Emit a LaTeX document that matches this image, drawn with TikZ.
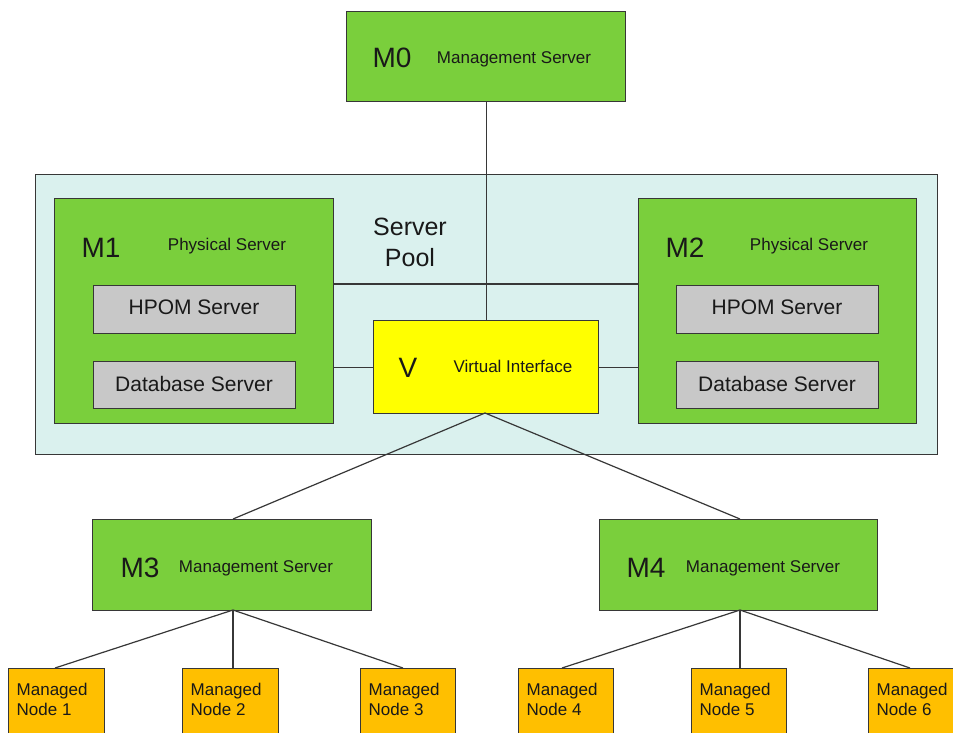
\documentclass[tikz,border=0pt]{standalone}
\usepackage{fontspec}
\setmainfont{Liberation Sans}
\definecolor{grn}{RGB}{122,207,60}
\definecolor{pool}{RGB}{218,241,238}
\definecolor{gry}{RGB}{200,200,200}
\definecolor{ylw}{RGB}{255,255,0}
\definecolor{orn}{RGB}{255,191,0}
\definecolor{edge}{RGB}{55,55,55}
\definecolor{txt}{RGB}{25,25,25}
\tikzset{
  box/.style={draw=edge, line width=1.2pt, inner sep=0pt},
  conn/.style={draw=edge, line width=1.2pt},
  big/.style={font=\fontsize{28}{30}\selectfont, text=txt, anchor=base, inner sep=0pt},
  small/.style={font=\fontsize{17}{20}\selectfont, text=txt, anchor=base, inner sep=0pt},
  mid/.style={font=\fontsize{21}{24}\selectfont, text=txt, anchor=base, inner sep=0pt},
  poolt/.style={font=\fontsize{25}{30}\selectfont, text=txt, anchor=base, inner sep=0pt},
  mn/.style={font=\fontsize{17}{20}\selectfont, text=txt, anchor=north west, inner sep=0pt, align=left},
}
\begin{document}
\begin{tikzpicture}[x=1pt,y=-1pt]
\clip (0,0) rectangle (953,732);
\fill[white] (0,0) rectangle (953,732);
% boxes
\node[box, fill=pool, minimum width=902pt, minimum height=280pt, anchor=north west] (pool) at (35,174) {};
\node[box, fill=grn, minimum width=279pt, minimum height=90pt, anchor=north west] (m0) at (346,11) {};
\node[box, fill=grn, minimum width=279pt, minimum height=225pt, anchor=north west] (m1) at (54,198) {};
\node[box, fill=grn, minimum width=278pt, minimum height=225pt, anchor=north west] (m2) at (638,198) {};
\node[box, fill=gry, minimum width=202pt, minimum height=48pt, anchor=north west] (h1) at (93,285) {};
\node[box, fill=gry, minimum width=202pt, minimum height=47pt, anchor=north west] (d1) at (93,361) {};
\node[box, fill=gry, minimum width=202pt, minimum height=48pt, anchor=north west] (h2) at (676,285) {};
\node[box, fill=gry, minimum width=202pt, minimum height=47pt, anchor=north west] (d2) at (676,361) {};
\node[box, fill=ylw, minimum width=225pt, minimum height=93pt, anchor=north west] (v) at (373,320) {};
\node[box, fill=grn, minimum width=279pt, minimum height=91pt, anchor=north west] (m3) at (92,519) {};
\node[box, fill=grn, minimum width=278pt, minimum height=91pt, anchor=north west] (m4) at (599,519) {};
\node[box, fill=orn, minimum width=96pt, minimum height=92pt, anchor=north west] (n1) at (8,668) {};
\node[box, fill=orn, minimum width=96pt, minimum height=92pt, anchor=north west] (n2) at (182,668) {};
\node[box, fill=orn, minimum width=95pt, minimum height=92pt, anchor=north west] (n3) at (360,668) {};
\node[box, fill=orn, minimum width=95pt, minimum height=92pt, anchor=north west] (n4) at (518,668) {};
\node[box, fill=orn, minimum width=95pt, minimum height=92pt, anchor=north west] (n5) at (691,668) {};
\node[box, fill=orn, minimum width=96pt, minimum height=92pt, anchor=north west] (n6) at (868,668) {};
% connectors
\draw[conn] (m0.south -| v.north) -- (v.north);
\draw[conn] (m1.east |- 0,284) -- (m2.west |- 0,284);
\draw[conn] (m1.east |- v.west) -- (v.west);
\draw[conn] (v.east) -- (m2.west |- v.east);
\coordinate (m3t) at (233,519);
\coordinate (m4t) at (740,519);
\coordinate (vb) at (485,413);
\draw[conn] (vb) -- (m3t);
\draw[conn] (vb) -- (m4t);
\coordinate (m3b) at (233,610);
\coordinate (m4b) at (740,610);
\coordinate (n1t) at (55,668);
\coordinate (n3t) at (403,668);
\coordinate (n4t) at (562,668);
\coordinate (n6t) at (910,668);
\draw[conn] (m3b) -- (n1t);
\draw[conn] (m3b) -- (n2.north -| m3b);
\draw[conn] (m3b) -- (n3t);
\draw[conn] (m4b) -- (n4t);
\draw[conn] (m4b) -- (n5.north -| m4b);
\draw[conn] (m4b) -- (n6t);
% texts
\node[big] (t0a) at (392,67) {M0};
\node[small] (t0b) at (514,63) {Management Server};
\node[poolt] (tp1) at (410,235) {Server};
\node[poolt] (tp2) at (410,266) {Pool};
\node[big] (t1a) at (101,257) {M1};
\node[small] (t1b) at (227,250) {Physical Server};
\node[big] (t2a) at (685,257) {M2};
\node[small] (t2b) at (809,250) {Physical Server};
\node[mid] (th1) at (194,314) {HPOM Server};
\node[mid] (td1) at (194,391) {Database Server};
\node[mid] (th2) at (777,314) {HPOM Server};
\node[mid] (td2) at (777,391) {Database Server};
\node[big] (tva) at (408,377) {V};
\node[small] (tvb) at (513,372) {Virtual Interface};
\node[big] (t3a) at (140,577) {M3};
\node[small] (t3b) at (256,572) {Management Server};
\node[big] (t4a) at (646,577) {M4};
\node[small] (t4b) at (763,572) {Management Server};
\node[mn] (tn1) at (16.5,683) {Managed\\Node 1};
\node[mn] (tn2) at (190.5,683) {Managed\\Node 2};
\node[mn] (tn3) at (368.5,683) {Managed\\Node 3};
\node[mn] (tn4) at (526.5,683) {Managed\\Node 4};
\node[mn] (tn5) at (699.5,683) {Managed\\Node 5};
\node[mn] (tn6) at (876.5,683) {Managed\\Node 6};
\end{tikzpicture}
\end{document}
